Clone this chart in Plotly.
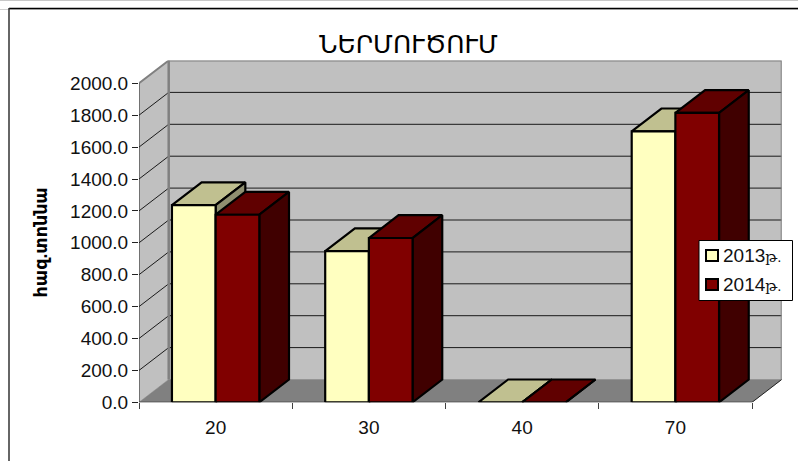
import plotly.graph_objects as go

categories = ["20", "30", "40", "70"]
series_names = ["2013թ.", "2014թ."]
values_2013 = [1236, 948, 0, 1699]
values_2014 = [1176, 1030, 0, 1814]
y_ticks = [0, 200, 400, 600, 800, 1000, 1200, 1400, 1600, 1800, 2000]
title_text = "ՆԵՐՄՈՒԾՈՒՄ"
y_title = "հազ.տոննա"

W, H = 798, 461
L, R, T, B = 139.0, 752.0, 83.3, 402.3
DPX, DPY = 29.7, 22.8
DX = DPX * 4 / (R - L)
DY = DPY * 2000 / (B - T)
BAR = 0.285
SANS = "Liberation Sans, Arial, DejaVu Sans"

FACES = [
    {"front": "#FFFFC0", "top": "#C0C090", "side": "#8F8F70"},
    {"front": "#800000", "top": "#600000", "side": "#400000"},
]

fig = go.Figure()


def poly(xs, ys, fill, line="black", width=2.2):
    fig.add_trace(go.Scatter(
        x=xs + xs[:1], y=ys + ys[:1], mode="lines", fill="toself", fillcolor=fill,
        line=dict(color=line, width=width), cliponaxis=False,
        hoverinfo="skip", showlegend=False))


def seg(xs, ys, color, width=1):
    fig.add_trace(go.Scatter(
        x=xs, y=ys, mode="lines", line=dict(color=color, width=width),
        cliponaxis=False, hoverinfo="skip", showlegend=False))


n = len(categories)
top = y_ticks[-1]
# walls and floor
poly([0, DX, DX, 0], [0, DY, top + DY, top], "#C0C0C0", "#C0C0C0", 0.5)
poly([DX, n + DX, n + DX, DX], [DY, DY, top + DY, top + DY], "#C0C0C0", "#C0C0C0", 0.5)
poly([0, n, n + DX, DX], [0, 0, DY, DY], "#808080", "#808080", 0.5)
for t in y_ticks[1:-1]:
    seg([0, DX, n + DX], [t, t + DY, t + DY], "#1A1A1A", 1)
seg([0, DX, n + DX, n + DX], [top, top + DY, top + DY, DY], "#808080", 2)
seg([DX, DX], [DY, top + DY], "#808080", 2.5)
seg([n, n + DX], [0, DY], "#222222", 1)
seg([0, 0], [0, top], "#222222", 1)
seg([0, n], [0, 0], "#111111", 1)

# boxes
for i in range(n):
    c = i + 0.5
    for j, vals in enumerate([values_2013, values_2014]):
        v = vals[i]
        x0 = c + (j - 1) * BAR
        x1 = x0 + BAR
        f = FACES[j]
        poly([x0, x1, x1 + DX, x0 + DX], [v, v, v + DY, v + DY], f["top"])
        poly([x1, x1 + DX, x1 + DX, x1], [0, DY, v + DY, v], f["side"])
        if v > 0:
            poly([x0, x1, x1, x0], [0, 0, v, v], f["front"])

fig.update_layout(
    width=W, height=H, margin=dict(l=0, r=0, t=0, b=0, autoexpand=False),
    paper_bgcolor="white", plot_bgcolor="rgba(0,0,0,0)",
    showlegend=False, hovermode=False,
    font=dict(family=SANS, size=19, color="#111111"),
    title=dict(text=title_text, x=408.5 / W, xanchor="center", y=1 - 44 / H, yanchor="middle",
               font=dict(family="DejaVu Sans", size=25, color="black")),
    xaxis=dict(domain=[L / W, (R + DPX) / W], range=[0, n + DX], tickmode="array",
               tickvals=[i + 0.5 for i in range(n)], ticktext=categories,
               ticks="", showgrid=False, zeroline=False, showline=False,
               ticklabelstandoff=12,
               minor=dict(tickmode="array", tickvals=list(range(n + 1)), ticks="outside", ticklen=6,
                          tickcolor="#404040", tickwidth=1, showgrid=False)),
    yaxis=dict(domain=[1 - B / H, 1 - (T - DPY) / H], range=[0, top + DY], tickmode="array", tickvals=y_ticks,
               ticktext=[f"{t:.1f}" for t in y_ticks], ticks="outside", ticklen=6, tickcolor="#222222",
               showgrid=False, zeroline=False, showline=False),
)

shapes = [
    dict(type="line", x0=0, x1=W, y0=0.5, y1=0.5, line=dict(color="#C8C8C8", width=1)),
    dict(type="line", x0=0, x1=W, y0=9.5, y1=9.5, line=dict(color="#D0D0D0", width=1)),
    dict(type="line", x0=9, x1=W, y0=8.5, y1=8.5, line=dict(color="black", width=1.5)),
    dict(type="line", x0=9, x1=9, y0=8, y1=H, line=dict(color="#333333", width=1.5)),
    dict(type="rect", x0=699, x1=792.5, y0=240.5, y1=300.5, fillcolor="white", line=dict(color="black", width=1)),
    dict(type="rect", x0=706, x1=718, y0=250, y1=261, fillcolor=FACES[0]["front"], line=dict(color="black", width=2)),
    dict(type="rect", x0=706, x1=718, y0=279, y1=290, fillcolor=FACES[1]["front"], line=dict(color="black", width=2)),
]
for s in shapes:
    s.update(xref="paper", yref="paper", layer="above")
    s["x0"], s["x1"] = s["x0"] / W, s["x1"] / W
    s["y0"], s["y1"] = 1 - s["y0"] / H, 1 - s["y1"] / H
fig.update_layout(shapes=shapes)
for name, ypx in zip(series_names, [255.5, 284.5]):
    label = f"{name[:4]}<span style='font-size:15px'>{name[4:]}</span>"
    fig.add_annotation(text=label, xref="paper", yref="paper", x=720.5 / W, y=1 - ypx / H,
                       xanchor="left", yanchor="middle", showarrow=False,
                       font=dict(family="Liberation Sans, DejaVu Serif", size=19, color="#111111"))
fig.add_annotation(text=y_title, xref="paper", yref="paper", x=40 / W, y=1 - 242.5 / H,
                   xanchor="center", yanchor="middle", textangle=-90, showarrow=False,
                   font=dict(family=SANS, size=17.5, weight="bold", color="black"))

fig.write_html("out.html", post_script="document.body.style.margin='0';", config={"displayModeBar": False})
